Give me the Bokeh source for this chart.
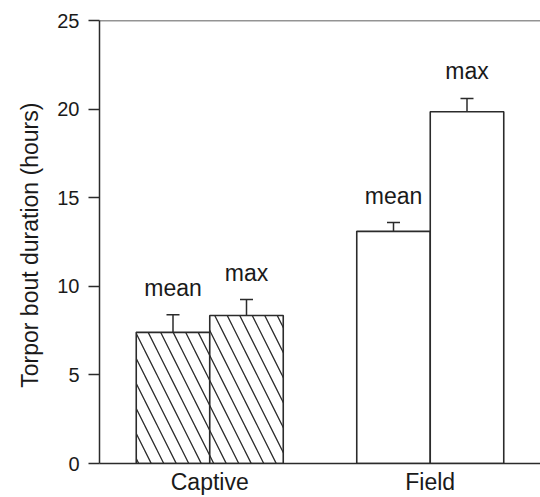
from bokeh.plotting import figure
from bokeh.models import Range1d, FixedTicker, Span, Whisker, TeeHead, ColumnDataSource
from bokeh.core.properties import value
from bokeh.embed import file_html
from bokeh.resources import INLINE

# ---- data ----
groups = ["Captive", "Field"]
group_pos = [0.5, 1.5]
mean_vals = [7.4, 13.1]
mean_err = [1.0, 0.5]
max_vals = [8.35, 19.85]
max_err = [0.9, 0.75]
series_labels = ["mean", "max"]
group_hatch = ["\\", " "]
y_ticks = [0, 5, 10, 15, 20, 25]

FONT = "Liberation Sans"
LINE = "#2b2b2b"
bar_w = 1.0 / 3.0

# build bar table
xs, tops, errs, hatches, texts = [], [], [], [], []
for gi, gp in enumerate(group_pos):
    for si, (vals, es) in enumerate([(mean_vals, mean_err), (max_vals, max_err)]):
        xs.append(gp + (si - 0.5) * bar_w)
        tops.append(vals[gi])
        errs.append(es[gi])
        hatches.append(group_hatch[gi])
        texts.append(series_labels[si])
uppers = [t + e for t, e in zip(tops, errs)]
src = ColumnDataSource(dict(x=xs, top=tops, upper=uppers, hatch=hatches, text=texts))

p = figure(width=540, height=497, x_range=Range1d(0, 2), y_range=Range1d(0, 25),
           output_backend="svg", toolbar_location=None, title=None,
           min_border_left=99, min_border_right=0, min_border_top=20, min_border_bottom=33)
p.outline_line_color = None
p.grid.visible = False
p.background_fill_color = "white"
p.border_fill_color = "white"

p.vbar(x="x", top="top", width=bar_w, bottom=0, source=src,
       fill_color="white", line_color=LINE, line_width=1.6,
       hatch_pattern="hatch", hatch_color=LINE, hatch_weight=1.3, hatch_scale=25)

w = Whisker(base="x", upper="upper", lower="top", source=src, dimension="height",
            line_color=LINE, line_width=1.5,
            upper_head=TeeHead(size=13, line_color=LINE, line_width=1.5), lower_head=None)
p.add_layout(w)

p.text(x="x", y="upper", text="text", source=src, text_align="center",
       text_baseline="alphabetic", y_offset=-27, text_font=value(FONT),
       text_font_size="23px", text_color="#1a1a1a")

p.add_layout(Span(location=25, dimension="width", line_color=LINE, line_width=1.5))

# y axis
ya = p.yaxis[0]
ya.ticker = FixedTicker(ticks=y_ticks)
ya.axis_label = "Torpor bout duration  (hours)"
ya.axis_label_text_font = FONT
ya.axis_label_text_font_size = "23px"
ya.axis_label_text_font_style = "normal"
ya.axis_label_text_color = "#1a1a1a"
ya.axis_label_standoff = 11
ya.major_label_text_font = FONT
ya.major_label_text_font_size = "20px"
ya.major_label_text_color = "#1a1a1a"
ya.major_label_standoff = 9
ya.major_tick_out = 11
ya.major_tick_in = 0
ya.minor_tick_out = 0
ya.minor_tick_in = 0
ya.axis_line_color = LINE
ya.axis_line_width = 1.5
ya.major_tick_line_color = LINE
ya.major_tick_line_width = 1.5

# x axis
xa = p.xaxis[0]
xa.ticker = FixedTicker(ticks=group_pos)
xa.major_label_overrides = dict(zip(group_pos, groups))
xa.major_label_text_font = FONT
xa.major_label_text_font_size = "23px"
xa.major_label_text_color = "#1a1a1a"
xa.major_label_standoff = 5
xa.major_tick_out = 0
xa.major_tick_in = 0
xa.minor_tick_out = 0
xa.minor_tick_in = 0
xa.axis_line_color = LINE
xa.axis_line_width = 1.5

open("out.html", "w").write(file_html(p, INLINE))
